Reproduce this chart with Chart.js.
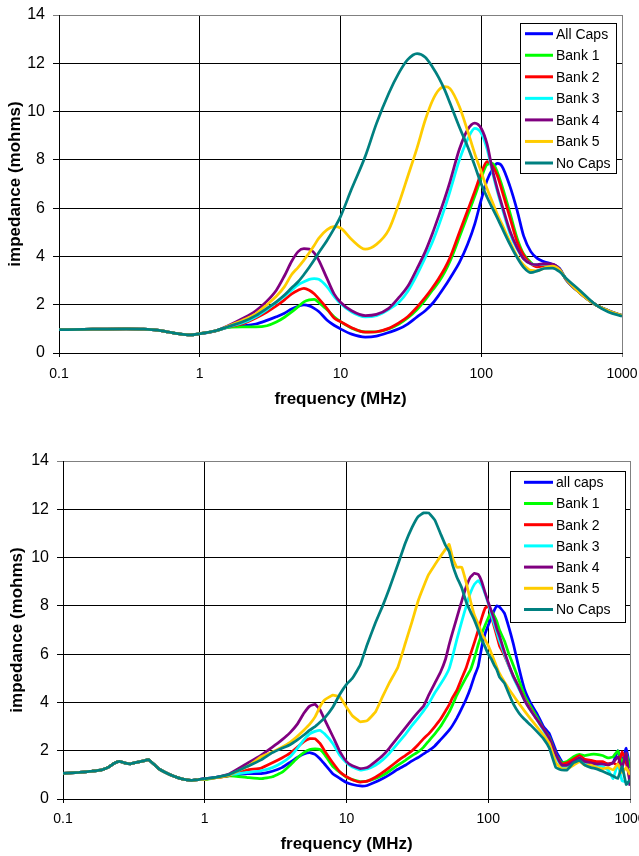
<!DOCTYPE html>
<html>
<head>
<meta charset="utf-8">
<script src="https://cdn.jsdelivr.net/npm/chart.js@4.4.1/dist/chart.umd.min.js"></script>
<style>
  body { margin: 0; background: #fff; width: 639px; height: 856px; overflow: hidden; }
  .wrap { position: absolute; left: 0; width: 639px; }
</style>
</head>
<body>
<div class="wrap" style="top:0;height:420px"><canvas id="topChart" width="639" height="420"></canvas></div>
<div class="wrap" style="top:420px;height:436px"><canvas id="bottomChart" width="639" height="436"></canvas></div>
<script>
// axis ticks
const freqTicks = [0.1, 1, 10, 100, 1000];
const impTicksMax = 14;

// series names and colours
const namesTop = ['All Caps', 'Bank 1', 'Bank 2', 'Bank 3', 'Bank 4', 'Bank 5', 'No Caps'];
const namesBottom = ['all caps', 'Bank 1', 'Bank 2', 'Bank 3', 'Bank 4', 'Bank 5', 'No Caps'];
const colors = ['#0000FF', '#00FF00', '#FF0000', '#00FFFF', '#800080', '#FFCC00', '#008080'];

// ---- top chart (smooth data) ----
// below 1.3 MHz all curves coincide
const topFreqLow = [0.1, 0.15, 0.2, 0.3, 0.4, 0.5, 0.6, 0.7, 0.85, 1, 1.3];
const topLow = [0.97, 0.98, 0.99, 1.0, 0.99, 0.95, 0.87, 0.8, 0.75, 0.8, 0.92];
const topFreqHigh = [1.6, 2, 2.5, 3, 3.5, 4, 4.5, 5, 5.5, 6, 6.5, 7, 8, 9, 10, 12, 15, 18, 22, 26,
  30, 35, 40, 45, 50, 55, 60, 70, 80, 90, 100, 110, 120, 130, 140, 160, 180, 200, 225, 250,
  280, 320, 360, 400, 500, 650, 800, 1000];
const topAllCaps = [1.07, 1.12, 1.2, 1.35, 1.5, 1.65, 1.82, 1.93, 1.99, 1.95, 1.85, 1.72, 1.37, 1.15, 1.0, 0.78, 0.66, 0.7, 0.85, 1.0,
  1.2, 1.5, 1.75, 2.05, 2.4, 2.75, 3.1, 3.75, 4.5, 5.35, 6.35, 7.15, 7.6, 7.85, 7.75, 6.9, 5.9, 4.85, 4.2, 3.92,
  3.78, 3.67, 3.5, 3.05, 2.5, 2.0, 1.76, 1.55];
const topBank1 = [1.06, 1.08, 1.08, 1.13, 1.28, 1.48, 1.7, 1.92, 2.12, 2.2, 2.22, 2.1, 1.8, 1.5, 1.3, 1.03, 0.87, 0.88, 1.0, 1.2,
  1.45, 1.8, 2.2, 2.6, 2.95, 3.35, 3.8, 4.8, 5.7, 6.5, 7.25, 7.8, 7.85, 7.5, 6.95, 5.8, 4.75, 4.1, 3.75, 3.6,
  3.62, 3.64, 3.47, 3.05, 2.5, 2.0, 1.75, 1.55];
const topBank2 = [1.09, 1.2, 1.45, 1.7, 1.95, 2.2, 2.45, 2.6, 2.68, 2.6, 2.45, 2.25, 1.85, 1.45, 1.3, 1.05, 0.86, 0.88, 1.02, 1.25,
  1.5, 1.9, 2.3, 2.7, 3.1, 3.5, 3.95, 5.0, 5.9, 6.7, 7.45, 7.93, 7.75, 7.35, 6.75, 5.6, 4.6, 4.05, 3.7, 3.57,
  3.62, 3.65, 3.47, 3.05, 2.5, 2.0, 1.75, 1.55];
const topBank3 = [1.09, 1.24, 1.5, 1.8, 2.1, 2.35, 2.6, 2.82, 2.95, 3.05, 3.08, 3.05, 2.75, 2.35, 2.05, 1.7, 1.5, 1.55, 1.8, 2.1,
  2.55, 3.25, 3.95, 4.6, 5.3, 6.0, 6.7, 8.0, 8.85, 9.3, 9.1, 8.45, 7.5, 6.7, 6.05, 4.95, 4.3, 3.9, 3.7, 3.65,
  3.68, 3.66, 3.48, 3.05, 2.5, 2.0, 1.75, 1.55];
const topBank4 = [1.14, 1.42, 1.75, 2.15, 2.6, 3.2, 3.8, 4.2, 4.32, 4.3, 4.15, 3.85, 3.1, 2.45, 2.1, 1.75, 1.55, 1.6, 1.85, 2.3,
  2.75, 3.5, 4.2, 4.95, 5.7, 6.4, 7.1, 8.45, 9.25, 9.52, 9.3, 8.65, 7.6, 6.8, 6.15, 5.05, 4.35, 3.9, 3.7, 3.66,
  3.7, 3.68, 3.48, 3.05, 2.5, 2.0, 1.75, 1.55];
const topBank5 = [1.12, 1.35, 1.62, 2.0, 2.35, 2.75, 3.25, 3.55, 3.85, 4.15, 4.45, 4.75, 5.1, 5.23, 5.18, 4.7, 4.3, 4.5, 5.1, 6.2,
  7.3, 8.5, 9.65, 10.45, 10.9, 11.03, 10.95, 10.2, 9.2, 8.25, 7.5, 6.8, 6.25, 5.75, 5.35, 4.6, 4.0, 3.65, 3.42, 3.4,
  3.52, 3.6, 3.45, 3.07, 2.5, 2.0, 1.75, 1.55];
const topNoCaps = [1.1, 1.28, 1.55, 1.85, 2.12, 2.4, 2.7, 2.95, 3.25, 3.55, 3.85, 4.15, 4.65, 5.15, 5.65, 6.8, 8.15, 9.5, 10.75, 11.6,
  12.15, 12.4, 12.25, 11.85, 11.4, 10.9, 10.35, 9.35, 8.55, 7.75, 7.0, 6.45, 6.0, 5.6, 5.2, 4.5, 3.95, 3.55, 3.33, 3.4,
  3.5, 3.52, 3.37, 3.1, 2.6, 2.0, 1.7, 1.53];

// ---- bottom chart (measured, noisy data) ----
const botFreqLow = [0.1, 0.13, 0.16, 0.19, 0.21, 0.23, 0.25, 0.27, 0.3, 0.33, 0.37, 0.4, 0.43, 0.47, 0.52, 0.6, 0.7, 0.8, 0.9];
const botLow = [1.06, 1.1, 1.15, 1.22, 1.32, 1.48, 1.56, 1.5, 1.46, 1.52, 1.58, 1.63, 1.48, 1.27, 1.12, 0.95, 0.82, 0.77, 0.8];
const botFreqHigh = [1, 1.2, 1.5, 2, 2.5, 3, 3.5, 4, 4.5, 5, 5.5, 6, 6.5, 7, 8, 9, 10, 11, 12.5, 14,
  16, 18, 20, 23, 26, 29, 32, 35, 38, 42, 46, 50, 53, 56, 60, 65, 70, 75, 80, 85,
  90, 95, 100, 105, 110, 115, 120, 130, 140, 150, 165, 180, 200, 220, 245, 270, 300, 330, 360, 400,
  440, 480, 530, 580, 640, 700, 760, 820, 880, 940, 1000];
const botAllCaps = [0.84, 0.9, 0.97, 1.05, 1.05, 1.15, 1.3, 1.52, 1.72, 1.86, 1.92, 1.85, 1.67, 1.45, 1.05, 0.85, 0.68, 0.6, 0.54, 0.56,
  0.7, 0.85, 1.0, 1.23, 1.4, 1.58, 1.72, 1.87, 2.0, 2.2, 2.45, 2.68, 2.85, 3.05, 3.35, 3.75, 4.15, 4.6, 5.1, 5.5,
  6.3, 6.85, 7.2, 7.5, 7.8, 8.0, 7.95, 7.7, 7.1, 6.45, 5.4, 4.55, 3.95, 3.55, 3.0, 2.7, 2.0, 1.55, 1.45, 1.55,
  1.8, 1.6, 1.55, 1.5, 1.5, 1.45, 1.5, 2.0, 1.55, 2.1, 1.3];
const botBank1 = [0.8, 0.88, 0.96, 0.89, 0.84, 0.92, 1.1, 1.4, 1.7, 1.92, 2.05, 2.08, 2.05, 1.85, 1.35, 1.1, 0.9, 0.8, 0.72, 0.74,
  0.85, 0.98, 1.15, 1.4, 1.6, 1.8, 1.95, 2.15, 2.4, 2.7, 3.0, 3.35, 3.6, 3.9, 4.3, 4.7, 5.05, 5.35, 5.85, 6.4,
  6.85, 7.2, 7.5, 7.8, 7.6, 7.35, 7.0, 6.55, 6.0, 5.55, 4.9, 4.3, 3.8, 3.4, 2.9, 2.55, 1.85, 1.5, 1.55, 1.75,
  1.85, 1.8, 1.85, 1.85, 1.8, 1.7, 1.75, 2.0, 1.5, 1.9, 1.3];
const botBank2 = [0.82, 0.88, 0.98, 1.2, 1.28, 1.5, 1.7, 1.9, 2.15, 2.38, 2.5, 2.5, 2.3, 2.0, 1.5, 1.12, 0.92, 0.8, 0.7, 0.74,
  0.9, 1.1, 1.3, 1.58, 1.8, 2.0, 2.25, 2.5, 2.7, 3.0, 3.3, 3.65, 3.9, 4.2, 4.5, 5.0, 5.45, 6.0, 6.5, 7.0,
  7.5, 7.9, 8.0, 7.6, 7.15, 6.75, 6.35, 5.95, 5.5, 5.1, 4.6, 4.15, 3.7, 3.3, 2.9, 2.5, 1.8, 1.45, 1.5, 1.65,
  1.8, 1.65, 1.6, 1.55, 1.55, 1.45, 1.5, 1.4, 1.95, 1.5, 0.8];
const botBank3 = [0.82, 0.9, 1.0, 1.1, 1.17, 1.3, 1.5, 1.75, 2.1, 2.45, 2.7, 2.8, 2.84, 2.7, 2.3, 1.8, 1.5, 1.32, 1.2, 1.25,
  1.4, 1.62, 1.88, 2.3, 2.68, 3.05, 3.35, 3.65, 3.95, 4.4, 4.75, 5.1, 5.4, 5.9, 6.6, 7.35, 8.0, 8.55, 8.9, 9.05,
  8.85, 8.5, 8.1, 7.65, 7.25, 6.9, 6.55, 6.0, 5.5, 5.05, 4.55, 4.1, 3.65, 3.3, 2.85, 2.45, 1.75, 1.35, 1.35, 1.5,
  1.7, 1.5, 1.45, 1.4, 1.35, 1.2, 0.85, 1.45, 0.75, 0.7, 0.6];
const botBank4 = [0.84, 0.9, 1.05, 1.48, 1.82, 2.15, 2.45, 2.75, 3.1, 3.55, 3.85, 3.92, 3.7, 3.3, 2.6, 1.95, 1.55, 1.38, 1.26, 1.3,
  1.55, 1.8, 2.1, 2.55, 2.95, 3.3, 3.6, 3.85, 4.3, 4.8, 5.25, 5.8, 6.4, 6.9, 7.5, 8.2, 8.8, 9.2, 9.35, 9.3,
  9.0, 8.55, 8.15, 7.8, 7.45, 7.05, 6.75, 6.1, 5.55, 5.1, 4.6, 4.1, 3.65, 3.3, 2.9, 2.5, 1.85, 1.4, 1.4, 1.55,
  1.7, 1.55, 1.5, 1.45, 1.45, 1.4, 1.5, 1.75, 1.3, 1.9, 0.55];
const botBank5 = [0.82, 0.88, 1.0, 1.35, 1.75, 1.95, 2.15, 2.35, 2.6, 2.85, 3.1, 3.4, 3.82, 4.1, 4.3, 4.22, 3.8, 3.45, 3.2, 3.25,
  3.6, 4.25, 4.8, 5.45, 6.45, 7.35, 8.2, 8.8, 9.3, 9.7, 10.05, 10.35, 10.55, 10.0, 9.6, 9.6, 8.95, 8.2, 7.6, 7.25,
  6.85, 6.6, 6.35, 6.05, 5.75, 5.45, 5.2, 4.85, 4.55, 4.3, 3.95, 3.65, 3.3, 3.0, 2.65, 2.3, 1.5, 1.25, 1.25, 1.4,
  1.55, 1.4, 1.4, 1.3, 1.25, 1.3, 1.2, 1.45, 1.1, 1.3, 1.0];
const botNoCaps = [0.84, 0.9, 1.02, 1.35, 1.62, 1.92, 2.1, 2.25, 2.45, 2.65, 2.85, 3.0, 3.18, 3.35, 3.8, 4.35, 4.75, 5.0, 5.55, 6.4,
  7.3, 8.0, 8.7, 9.7, 10.6, 11.25, 11.7, 11.85, 11.85, 11.55, 11.0, 10.5, 10.25, 9.7, 9.2, 8.75, 8.15, 7.75, 7.4, 7.0,
  6.6, 6.3, 6.0, 5.8, 5.55, 5.35, 5.05, 4.8, 4.35, 3.95, 3.55, 3.3, 3.05, 2.8, 2.5, 2.1, 1.3, 1.2, 1.2, 1.5,
  1.6, 1.4, 1.3, 1.25, 1.15, 1.05, 0.95, 0.85, 1.35, 0.6, 0.8];

const FONT = '"Liberation Sans", Arial, sans-serif';

// legend drawn as a boxed key inside the plot, like the original
const boxLegend = {
  id: 'boxLegend',
  afterDraw(chart, args, opts) {
    const ctx = chart.ctx;
    ctx.save();
    ctx.fillStyle = '#fff';
    ctx.fillRect(opts.x, opts.y, opts.w, opts.h);
    ctx.strokeStyle = '#000';
    ctx.lineWidth = 1;
    ctx.strokeRect(opts.x + 0.5, opts.y + 0.5, opts.w, opts.h);
    ctx.font = '14px ' + FONT;
    ctx.textBaseline = 'middle';
    chart.data.datasets.forEach((ds, i) => {
      const y = opts.y + opts.first + i * opts.step;
      ctx.strokeStyle = ds.borderColor;
      ctx.lineWidth = 3;
      ctx.beginPath();
      ctx.moveTo(opts.x + opts.lineFrom, y);
      ctx.lineTo(opts.x + opts.lineTo, y);
      ctx.stroke();
      ctx.fillStyle = '#000';
      ctx.fillText(ds.label, opts.x + opts.textX, y + 1);
    });
    ctx.restore();
  }
};

function points(freqs, vals) {
  return freqs.map((f, i) => ({ x: f, y: vals[i] }));
}

function makeChart(id, freqs, series, names, g, smooth) {
  const datasets = series.map((vals, i) => ({
    label: names[i],
    data: points(freqs, vals),
    borderColor: colors[i],
    backgroundColor: colors[i],
    borderWidth: 2.75,
    pointRadius: 0,
    fill: false,
    order: series.length - i,
    cubicInterpolationMode: smooth ? 'monotone' : 'default',
    tension: smooth ? 0.4 : 0.1
  }));

  return new Chart(document.getElementById(id), {
    type: 'line',
    data: { datasets },
    plugins: [boxLegend],
    options: {
      responsive: false,
      animation: false,
      events: [],
      layout: { padding: { top: g.top, right: g.W - g.right, left: 0, bottom: 0 } },
      plugins: {
        legend: { display: false },
        tooltip: { enabled: false },
        boxLegend: g.legend
      },
      scales: {
        x: {
          type: 'logarithmic',
          min: 0.1,
          max: 1000,
          afterBuildTicks: (axis) => { axis.ticks = freqTicks.map(v => ({ value: v })); },
          afterFit: (axis) => {
            axis.height = g.H - g.bottom;
            axis.paddingLeft = 0;
            axis.paddingRight = 0;
          },
          ticks: {
            autoSkip: false,
            maxRotation: 0,
            padding: g.xTickPad,
            color: '#000',
            font: { family: FONT, size: 14 },
            callback: (v) => String(v)
          },
          grid: {
            color: (c) => (c.tick && c.tick.value === 1000 ? '#808080' : '#000'),
            lineWidth: 1,
            tickLength: 4
          },
          border: { color: '#000', width: 1 },
          title: {
            display: true,
            text: 'frequency (MHz)',
            color: '#000',
            font: { family: FONT, size: 17, weight: 'bold' },
            padding: { top: 0, bottom: g.xTitlePad }
          }
        },
        y: {
          type: 'linear',
          min: 0,
          max: impTicksMax,
          afterFit: (axis) => {
            axis.width = g.left;
            axis.paddingTop = 0;
            axis.paddingBottom = 0;
          },
          ticks: {
            stepSize: 2,
            padding: 8,
            color: '#000',
            font: { family: FONT, size: 16 }
          },
          grid: {
            color: (c) => (c.tick && c.tick.value === impTicksMax ? '#808080' : '#000'),
            lineWidth: 1,
            tickLength: 6
          },
          border: { color: '#000', width: 1 },
          title: {
            display: true,
            text: 'impedance (mohms)',
            color: '#000',
            font: { family: FONT, size: 17, weight: 'bold' },
            padding: { top: g.yTitlePad, bottom: 0 }
          }
        }
      }
    }
  });
}

const topFreqs = topFreqLow.concat(topFreqHigh);
const topSeries = [topAllCaps, topBank1, topBank2, topBank3, topBank4, topBank5, topNoCaps]
  .map(s => topLow.concat(s));
makeChart('topChart', topFreqs, topSeries, namesTop, {
  W: 639, H: 420, left: 59, right: 622, top: 15, bottom: 353,
  xTickPad: 8.6, xTitlePad: 10.8, yTitlePad: 5,
  legend: { x: 520, y: 23, w: 96, h: 150, first: 10.7, step: 21.55, lineFrom: 5, lineTo: 33, textX: 36 }
}, true);

const botFreqs = botFreqLow.concat(botFreqHigh);
const botSeries = [botAllCaps, botBank1, botBank2, botBank3, botBank4, botBank5, botNoCaps]
  .map(s => botLow.concat(s));
makeChart('bottomChart', botFreqs, botSeries, namesBottom, {
  W: 639, H: 436, left: 63, right: 630, top: 41, bottom: 379,
  xTickPad: 7.6, xTitlePad: 1, yTitlePad: 7,
  legend: { x: 510, y: 51, w: 115, h: 151, first: 11.3, step: 21.2, lineFrom: 14, lineTo: 43, textX: 46 }
}, false);
</script>
</body>
</html>
